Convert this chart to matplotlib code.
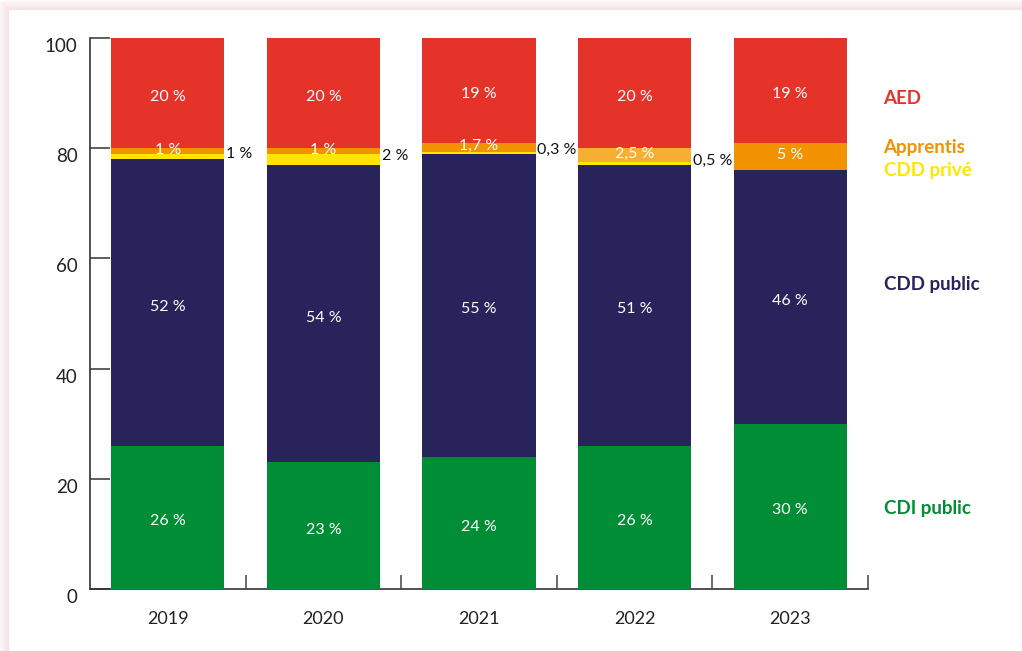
import numpy as np
import matplotlib
matplotlib.use('Agg')
import matplotlib.pyplot as plt
from matplotlib.transforms import ScaledTranslation

plt.rcParams['font.family'] = ['Lato', 'DejaVu Sans']

# Shares of each contract type per year (%)
years = ['2019', '2020', '2021', '2022', '2023']
cdi_public = [26, 23, 24, 26, 30]
cdd_public = [52, 54, 55, 51, 46]
cdd_prive = [1, 2, 0.3, 0.5, 0]
apprentis = [1, 1, 1.7, 2.5, 5]
aed = [20, 20, 19, 20, 19]

cdi_labels = ['26 %', '23 %', '24 %', '26 %', '30 %']
cdd_public_labels = ['52 %', '54 %', '55 %', '51 %', '46 %']
cdd_prive_labels = ['1 %', '2 %', '0,3 %', '0,5 %', '']
apprentis_labels = ['1 %', '1 %', '1,7 %', '2,5 %', '5 %']
aed_labels = ['20 %', '20 %', '19 %', '20 %', '19 %']

series_names = ['AED', 'Apprentis', 'CDD privé', 'CDD public', 'CDI public']
series_label_y = [89, 80.2, 75.9, 55.2, 14.7]

GREEN = '#008D36'
NAVY = '#29235C'
YELLOW = '#FFE600'
ORANGE = '#F39200'
ORANGE_LIGHT = '#F8AE33'
RED = '#E6332A'
name_colors = [RED, ORANGE, YELLOW, NAVY, GREEN]

fig = plt.figure(figsize=(10.22, 6.51), dpi=100)

# card background with a faint pink shadow along the top and left edges
H, W = 651, 1022
yy, xx = np.mgrid[0:H, 0:W]
d = np.maximum(9 - xx, 10 - yy).astype(float)
a = np.where(d > 0, np.clip(1 - d / 12, 0, 1), 0) * 0.55
pink = np.array([0.93, 0.78, 0.80])
img = np.ones((H, W, 3)) * (1 - a[..., None]) + pink * a[..., None]
bg = fig.add_axes([0, 0, 1, 1], zorder=-1)
bg.imshow(img, aspect='auto', extent=(0, W, H, 0))
bg.axis('off')

ax = fig.add_axes([0.0881, 0.0952, 0.7612, 0.8464])
ax.set_facecolor('none')

x = np.arange(len(years))
width = 0.727

b0 = np.zeros(len(years))
b1 = b0 + cdi_public
b2 = b1 + cdd_public
b3 = b2 + cdd_prive
b4 = b3 + apprentis

ax.bar(x, cdi_public, width, bottom=b0, color=GREEN, zorder=3)
ax.bar(x, cdd_public, width, bottom=b1, color=NAVY, zorder=3)
ax.bar(x, cdd_prive, width, bottom=b2, color=YELLOW, zorder=3)
app_colors = [ORANGE, ORANGE, ORANGE, ORANGE_LIGHT, ORANGE]
ax.bar(x, apprentis, width, bottom=b3, color=app_colors, zorder=3)
ax.bar(x, aed, width, bottom=b4, color=RED, zorder=3)

# value labels inside the bars, nudged slightly down
down = ax.transData + ScaledTranslation(0, -0.04, fig.dpi_scale_trans)
lab_kw = dict(ha='center', va='center', color='white', fontsize=11.5, zorder=5)
for i in range(len(years)):
    ax.text(x[i], b0[i] + cdi_public[i] / 2, cdi_labels[i], transform=down, **lab_kw)
    ax.text(x[i], b1[i] + cdd_public[i] / 2, cdd_public_labels[i], transform=down, **lab_kw)
    ax.text(x[i], b3[i] + apprentis[i] / 2 + 0.2, apprentis_labels[i], **lab_kw)
    ax.text(x[i], b4[i] + aed[i] / 2, aed_labels[i], transform=down, **lab_kw)
    if cdd_prive_labels[i]:
        ax.text(x[i] + width / 2 + 0.01, b2[i] + cdd_prive[i] / 2 + 0.5,
                cdd_prive_labels[i], ha='left', va='center',
                color='#111111', fontsize=11.5, zorder=5)

# series names on the right
for name, yv, c in zip(series_names, series_label_y, name_colors):
    ax.text(4.6, yv, name, ha='left', va='center', color=c,
            fontsize=13.5, fontweight='bold', clip_on=False)

ax.set_xlim(-0.5, 4.5)
ax.set_ylim(0, 100)

for s in ['top', 'right']:
    ax.spines[s].set_visible(False)
ax.spines['left'].set_color('#333333')
ax.spines['bottom'].set_color('#333333')
ax.spines['left'].set_linewidth(1.2)
ax.spines['bottom'].set_linewidth(1.2)
ax.spines['bottom'].set_zorder(1)

ax.set_yticks([0, 20, 40, 60, 80, 100])
ax.tick_params(axis='y', direction='in', length=14.5, width=1.1,
               color='#333333', labelsize=13.5, pad=9, labelcolor='#222222')
for lbl in ax.get_yticklabels():
    lbl.set_transform(lbl.get_transform() + ScaledTranslation(0, -0.07, fig.dpi_scale_trans))

ax.set_xticks(x)
ax.set_xticklabels(years)
ax.tick_params(axis='x', which='major', length=0, labelsize=13, pad=16,
               labelcolor='#222222')
ax.set_xticks(np.arange(len(years)) + 0.5, minor=True)
ax.tick_params(axis='x', which='minor', direction='in', length=10, width=1.1,
               color='#444444')

fig.savefig('out.png', dpi=100)
